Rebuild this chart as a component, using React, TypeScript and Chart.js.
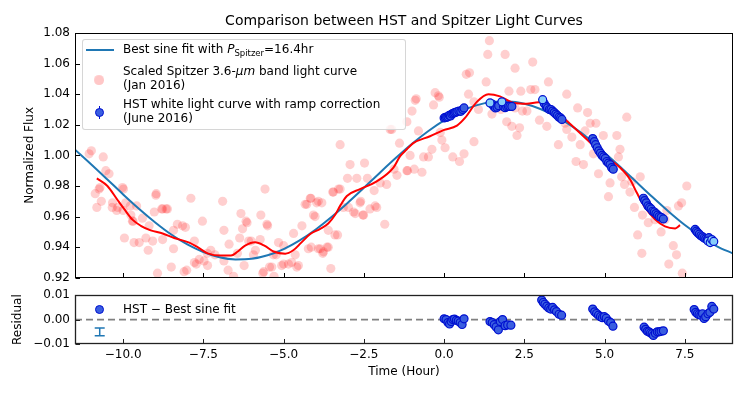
import React, { useEffect, useRef } from "react";
import { Chart, registerables } from "chart.js";
Chart.register(...registerables);

const FONT = '"DejaVu Sans", "Liberation Sans", sans-serif';

// ---- axes ----
const X_MIN = -11.5;
const X_MAX = 9;
const X_TICKS = [-10, -7.5, -5, -2.5, 0, 2.5, 5, 7.5];
const FLUX_MIN = 0.92;
const FLUX_MAX = 1.08;
const FLUX_TICKS = [0.92, 0.94, 0.96, 0.98, 1.0, 1.02, 1.04, 1.06, 1.08];
const RES_MIN = -0.01;
const RES_MAX = 0.01;
const RES_TICKS = [-0.01, 0, 0.01];

// ---- best sine fit ----
const SINE_TIME = [
  -11.5, -11, -10.5, -10, -9.5, -9, -8.5, -8, -7.5, -7, -6.5, -6, -5.5, -5, -4.5, -4, -3.5, -3, -2.5, -2, -1.5,
  -1, -0.5, 0, 0.5, 1, 1.5, 2, 2.5, 3, 3.5, 4, 4.5, 5, 5.5, 6, 6.5, 7, 7.5, 8, 8.5, 9,
];
const SINE_FLUX = [
  1.0037, 0.9942, 0.9844, 0.9745, 0.965, 0.9562, 0.9483, 0.9418, 0.9368, 0.9334, 0.932, 0.9324, 0.9347, 0.9388,
  0.9445, 0.9516, 0.9599, 0.9691, 0.9788, 0.9887, 0.9984, 1.0076, 1.0158, 1.0229, 1.0286, 1.0327, 1.0349, 1.0352,
  1.0337, 1.0303, 1.0253, 1.0188, 1.011, 1.0018, 0.9923, 0.9824, 0.9726, 0.9632, 0.9545, 0.947, 0.9406, 0.9359,
];

// ---- smoothed Spitzer curve (red) ----
const SMOOTH_TIME = [
  -10.82, -10.49, -10.18, -9.97, -9.71, -9.45, -9.14, -8.77, -8.41, -7.94, -7.68, -7.37, -6.96, -6.64, -6.44, -6.2,
  -5.89, -5.6, -5.3, -4.95, -4.7, -4.45, -4.17, -3.86, -3.61, -3.4, -3.24, -3.03, -2.62, -2.1, -1.58, -1.37, -1.16,
  -0.96, -0.44, -0.02, 0.4, 0.65, 1.02, 1.38, 1.74, 2.16, 2.58, 2.94, 3.3, 3.77, 4.39, 5.02, 5.48, 5.79, 6.0, 6.26,
  6.57, 6.88, 7.2, 7.35,
];
const SMOOTH_FLUX = [
  0.985, 0.98, 0.971, 0.965, 0.958, 0.954, 0.951, 0.949, 0.946, 0.943, 0.94, 0.936, 0.9345, 0.9345, 0.937, 0.941,
  0.9432, 0.941, 0.937, 0.9358, 0.938, 0.943, 0.9486, 0.952, 0.9555, 0.961, 0.967, 0.9735, 0.978, 0.983, 0.992,
  0.9995, 1.004, 1.008, 1.0125, 1.0165, 1.0195, 1.0245, 1.035, 1.04, 1.0386, 1.0343, 1.0338, 1.0347, 1.031, 1.0234,
  1.0115, 0.9995, 0.992, 0.9844, 0.9757, 0.966, 0.9583, 0.9536, 0.9523, 0.9544,
];

// ---- scaled Spitzer points (pink) ----
const SPITZER_TIME = [
  -11.06, -10.99, -10.74, -10.62, -10.54, -10.44, -10.75, -10.87, -10.72, -10.82, -10.68, -10.34, -10.2, -10.17,
  -10.33, -10.02, -9.99, -10.0, -9.92, -9.78, -9.76, -9.71, -9.69, -9.58, -9.4, -9.19, -9.03, -8.98, -8.97, -8.8,
  -8.77, -8.66, -8.62, -8.31, -8.15, -8.06, -8.43, -7.89, -7.53, -6.9, -6.86, -6.33, -6.28, -9.96, -9.66, -9.5,
  -9.29, -9.08, -8.77, -8.43, -7.78, -9.22, -7.27, -7.63, -7.48, -7.37, -6.7, -6.44, -6.73, -8.5, -8.93, -8.1, -8.02,
  -7.78, -6.23, -7.72, -7.14, -7.38, -6.86, -6.56, -6.37, -6.14, -6.09, -6.01, -5.88, -5.71, -5.73, -5.62, -5.58,
  -5.52, -5.44, -5.3, -5.23, -5.16, -5.0, -4.85, -4.75, -4.69, -4.59, -4.43, -4.33, -4.23, -4.17, -4.07, -3.97,
  -3.92, -3.81, -3.76, -3.61, -3.53, -3.45, -3.4, -3.32, -3.24, -2.98, -2.82, -2.62, -2.51, -2.31, -2.15, -5.94,
  -5.65, -5.37, -5.06, -4.54, -4.64, -5.32, -5.0, -3.86, -3.65, -3.78, -4.14, -3.61, -4.02, -4.28, -3.92, -4.15,
  -3.29, -3.47, -3.24, -2.93, -2.48, -3.01, -2.72, -2.39, -2.6, -3.14, -2.77, -2.53, -2.1, -2.18, -1.99, -1.79,
  -1.56, -1.47, -1.16, -1.39, -1.63, -1.85, -5.5, -6.17,
  1.41, 1.36, 1.9, 2.21, 2.76, 0.79, 0.69, 1.31, 3.25, 0.76, -0.28, -0.15, -0.87, -0.33, -1.0, 2.02, 2.39, 2.7,
  2.83, 3.82, 0.93, 1.07, 1.49, 1.77, 2.21, 2.44, 2.58, 2.97, 1.95, 2.11, 2.35, 2.27, 3.2, 3.77, -1.16, -0.8, -0.12,
  -0.07, 0.03, -0.38, 0.93, -0.64, -0.49, 0.27, 0.62, 0.48, -1.06, -1.14, -0.93, -0.69, 3.56, 3.98, 3.82, -1.68,
  -0.9, -0.18,
  4.16, 4.47, 4.55, 4.73, 5.69, 4.39, 4.24, 4.96, 5.38, 5.48, 4.11, 4.34, 4.65, 5.43, 4.81, 5.53, 6.11, 5.85, 5.62,
  5.17, 5.79, 5.12, 5.93, 7.56, 7.4, 7.3, 6.18, 6.57, 6.88, 6.36, 6.76, 6.03, 7.14, 6.16, 7.24, 7.0, 7.42, 6.94,
];
const SPITZER_FLUX = [
  1.001, 1.003, 1.049, 0.999, 0.99, 0.988, 0.978, 0.975, 0.979, 0.966, 0.97, 0.966, 0.964, 0.966, 0.969, 0.979,
  0.978, 0.964, 0.969, 0.967, 0.961, 0.957, 0.957, 0.967, 0.959, 0.954, 0.963, 0.974, 0.975, 0.965, 0.965, 0.965,
  0.965, 0.955, 0.954, 0.953, 0.951, 0.972, 0.957, 0.97, 0.951, 0.962, 0.952, 0.946, 0.943, 0.943, 0.946, 0.944,
  0.945, 0.939, 0.944, 0.938, 0.938, 0.932, 0.931, 0.928, 0.942, 0.936, 0.925, 0.927, 0.923, 0.924, 0.925, 0.93,
  0.928, 0.929, 0.935, 0.936, 0.931, 0.921, 0.946, 0.956, 0.944, 0.944, 0.938, 0.961, 0.945, 0.924, 0.978, 0.955,
  0.927, 0.921, 0.935, 0.943, 0.929, 0.929, 0.93, 0.949, 0.927, 0.954, 0.968, 0.939, 0.972, 0.961, 0.969, 0.939,
  0.969, 0.937, 0.94, 0.926, 0.976, 0.948, 0.948, 0.978, 0.966, 0.963, 0.969, 0.961, 0.965, 0.967, 0.935, 0.923,
  0.927, 0.928, 0.928, 0.935, 0.935, 0.941, 0.939, 0.94, 0.936, 0.94, 0.951, 0.96, 0.968, 0.97, 0.972, 0.978, 0.976,
  1.007, 0.994, 0.995, 0.985, 0.985, 0.985, 0.97, 0.966, 0.962, 0.961, 0.966, 0.977, 0.982, 0.981, 0.991, 0.987,
  0.99, 1.008, 1.017, 0.955, 0.954, 0.957,
  1.075, 1.066, 1.066, 1.057, 1.061, 1.054, 1.053, 1.048, 1.048, 1.04, 1.041, 1.038, 1.037, 1.033, 1.029, 1.042,
  1.042, 1.043, 1.043, 1.04, 1.035, 1.03, 1.027, 1.03, 1.031, 1.029, 1.029, 1.023, 1.022, 1.019, 1.018, 1.013,
  1.019, 1.021, 1.022, 1.016, 1.015, 1.01, 1.005, 1.004, 1.009, 0.999, 0.999, 0.999, 1.001, 0.996, 1.0, 0.99, 0.991,
  0.989, 1.007, 1.012, 1.017, 1.017, 1.036, 1.039,
  1.031, 1.028, 1.021, 1.021, 1.025, 1.016, 1.007, 1.013, 1.013, 1.004, 0.996, 0.994, 1.001, 0.999, 0.988, 0.986,
  0.986, 0.983, 0.981, 0.982, 0.976, 0.973, 0.966, 0.98, 0.969, 0.967, 0.961, 0.958, 0.958, 0.956, 0.95, 0.948,
  0.941, 0.936, 0.935, 0.929, 0.923, 0.964,
];

// ---- HST white light curve ----
const HST_TIME = [
  0.0, 0.04, 0.08, 0.12, 0.16, 0.2, 0.24, 0.28, 0.32, 0.36, 0.4, 0.46, 0.52, 0.58, 0.62,
  1.5, 1.55, 1.6, 1.65, 1.7, 1.85, 1.9, 1.95, 2.0, 2.05, 2.11,
  3.12, 3.18, 3.22, 3.28, 3.33, 3.38, 3.43, 3.48, 3.53, 3.58, 3.63, 3.67,
  4.63, 4.68, 4.72, 4.77, 4.82, 4.87, 4.92, 4.97, 5.02, 5.07, 5.12, 5.17, 5.22, 5.27,
  6.21, 6.25, 6.3, 6.35, 6.4, 6.45, 6.5, 6.55, 6.6, 6.65, 6.7, 6.76, 6.83,
  7.82, 7.86, 7.9, 7.95, 8.0, 8.05, 8.1, 8.15, 8.2, 8.25,
];
const HST_FLUX = [
  1.0245, 1.0248, 1.025, 1.0252, 1.0262, 1.0258, 1.027, 1.0275, 1.0278, 1.0282, 1.0285, 1.029, 1.0288, 1.03, 1.031,
  1.0335, 1.032, 1.031, 1.0315, 1.0325, 1.032, 1.0312, 1.0318, 1.0322, 1.032, 1.032,
  1.034, 1.032, 1.031, 1.03, 1.03, 1.029, 1.028, 1.027, 1.026, 1.025, 1.0245, 1.0235,
  1.011, 1.009, 1.007, 1.005, 1.003, 1.0015, 1.0, 0.999, 0.998, 0.996, 0.995, 0.994, 0.992, 0.991,
  0.972, 0.9705, 0.969, 0.967, 0.966, 0.965, 0.9635, 0.963, 0.962, 0.961, 0.96, 0.9595, 0.9585,
  0.9516, 0.9505, 0.9495, 0.9485, 0.9475, 0.9468, 0.946, 0.9455, 0.945, 0.9462,
];
const HST_LIGHT_TIME = [1.43, 1.8, 3.07, 8.22, 8.29, 8.34, 8.4];
const HST_LIGHT_FLUX = [1.0343, 1.035, 1.0364, 0.944, 0.943, 0.945, 0.9438];

// ---- residuals (HST - best sine fit) ----
const RES_TIME = [
  0.0, 0.06, 0.12, 0.17, 0.22, 0.27, 0.32, 0.38, 0.44, 0.5, 0.56, 0.62,
  1.43, 1.5, 1.56, 1.62, 1.69, 1.75, 1.82, 1.9, 1.98, 2.08,
  3.04, 3.09, 3.14, 3.2, 3.26, 3.32, 3.38, 3.44, 3.5, 3.58, 3.66,
  4.63, 4.69, 4.75, 4.81, 4.87, 4.93, 4.99, 5.05, 5.12, 5.19, 5.26,
  6.23, 6.28, 6.33, 6.38, 6.43, 6.48, 6.52, 6.58, 6.64, 6.7, 6.76, 6.83,
  7.79, 7.84, 7.89, 7.94, 8.0, 8.05, 8.1, 8.15, 8.22, 8.28, 8.34, 8.4,
];
const RES_VALUE = [
  0.0003, 0.0, -0.0012, -0.0018, -0.0008, 0.0, 0.0002, -0.0003, -0.0006, -0.0012, -0.002, 0.0003,
  -0.0008, -0.0012, -0.0021, -0.003, -0.0042, -0.0008, 0.0, -0.0025, -0.0022, -0.0023,
  0.008, 0.007, 0.0063, 0.0055, 0.0048, 0.0043, 0.005, 0.004, 0.0033, 0.0022, 0.0018,
  0.0043, 0.0032, 0.0025, 0.0018, 0.0012, 0.0008, 0.0012, 0.0006, -0.0006, -0.0012, -0.0027,
  -0.0031, -0.004, -0.0048, -0.005, -0.0055, -0.0058, -0.0065, -0.0056, -0.005, -0.005, -0.0048, -0.0046,
  0.0041, 0.003, 0.0024, 0.002, 0.0018, 0.0024, 0.0005, 0.0012, 0.0024, 0.003, 0.0054, 0.0043,
];
const ERR_SAMPLE_X = -10.73;
const ERR_SAMPLE_Y = -0.005;
const ERR_SAMPLE_SIZE = 0.0016;

// ---- styles ----
const C_SINE = "#1f77b4";
const C_RED = "#ff0000";
const C_PINK = "rgba(255,0,0,0.19)";
const C_HST = "#3a5ee0";
const C_HST_EDGE = "#0010d0";
const C_HST_LIGHT = "#87cefa";

const pts = (xs: number[], ys: number[]) => xs.map((x, i) => ({ x, y: ys[i] }));
const fmt = (v: number, d: number) => {
  const s = Math.abs(v).toFixed(d);
  return v < -1e-9 ? "\u2212" + s : s;
};

function makeFrame(xTicks: number[], yTicks: number[], lw: number, color: string, drawErr: boolean) {
  return {
    id: "frame",
    afterDatasetsDraw(chart: any) {
      const { ctx, chartArea: a, scales } = chart;
      const xs = scales.x;
      const ys = scales.y;
      ctx.save();
      ctx.strokeStyle = color;
      ctx.lineWidth = lw;
      const L = Math.round(a.left) + 0.5;
      const R = Math.round(a.right) - 0.5;
      const T = Math.round(a.top) + 0.5;
      const B = Math.round(a.bottom) - 0.5;
      ctx.strokeRect(L, T, R - L, B - T);
      ctx.lineWidth = 1;
      ctx.beginPath();
      for (const v of xTicks) {
        const px = Math.round(xs.getPixelForValue(v)) + 0.5;
        ctx.moveTo(px, B);
        ctx.lineTo(px, B - 4.5);
      }
      for (const v of yTicks) {
        const py = Math.round(ys.getPixelForValue(v)) + 0.5;
        ctx.moveTo(L, py);
        ctx.lineTo(L + 4.5, py);
      }
      ctx.stroke();
      if (drawErr) {
        const ex = xs.getPixelForValue(ERR_SAMPLE_X);
        const y1 = ys.getPixelForValue(ERR_SAMPLE_Y + ERR_SAMPLE_SIZE);
        const y2 = ys.getPixelForValue(ERR_SAMPLE_Y - ERR_SAMPLE_SIZE);
        ctx.strokeStyle = C_SINE;
        ctx.lineWidth = 1.5;
        ctx.beginPath();
        ctx.moveTo(ex, y1);
        ctx.lineTo(ex, y2);
        ctx.moveTo(ex - 5, y1);
        ctx.lineTo(ex + 5, y1);
        ctx.moveTo(ex - 5, y2);
        ctx.lineTo(ex + 5, y2);
        ctx.stroke();
      }
      ctx.restore();
    },
  };
}

function baseOptions(yMin: number, yMax: number, yTicks: number[], yDigits: number, yTitle: string, yTitlePad: number, showX: boolean, padding: any) {
  return {
    animation: false,
    responsive: false,
    events: [],
    layout: { padding },
    plugins: { legend: { display: false }, tooltip: { enabled: false }, title: { display: false } },
    scales: {
      x: {
        type: "linear",
        min: X_MIN,
        max: X_MAX,
        display: showX,
        grid: { display: false, drawTicks: false },
        border: { display: false },
        afterBuildTicks: (s: any) => {
          s.ticks = X_TICKS.map((v) => ({ value: v }));
        },
        afterFit: (s: any) => {
          if (showX) s.height = 49;
        },
        ticks: {
          color: "#000",
          padding: 4,
          maxRotation: 0,
          autoSkip: false,
          font: { family: FONT, size: 12 },
          callback: (v: any) => fmt(Number(v), 1),
        },
        title: {
          display: showX,
          text: "Time (Hour)",
          color: "#000",
          font: { family: FONT, size: 12 },
          padding: { top: 0, bottom: 14 },
        },
      },
      y: {
        type: "linear",
        min: yMin,
        max: yMax,
        grid: { display: false, drawTicks: false },
        border: { display: false },
        afterBuildTicks: (s: any) => {
          s.ticks = yTicks.map((v) => ({ value: v }));
        },
        afterFit: (s: any) => {
          s.width = 75;
        },
        ticks: {
          color: "#000",
          padding: 5,
          autoSkip: false,
          font: { family: FONT, size: 12 },
          callback: (v: any) => fmt(Number(v), yDigits),
        },
        title: {
          display: true,
          text: yTitle,
          color: "#000",
          font: { family: FONT, size: 12 },
          padding: { top: yTitlePad, bottom: 0 },
        },
      },
    },
  };
}

export default function App() {
  const topRef = useRef<HTMLCanvasElement | null>(null);
  const botRef = useRef<HTMLCanvasElement | null>(null);

  useEffect(() => {
    document.body.style.margin = "0";
    const top = new Chart(topRef.current as HTMLCanvasElement, {
      type: "scatter",
      data: {
        datasets: [
          {
            data: pts(SPITZER_TIME, SPITZER_FLUX),
            backgroundColor: C_PINK,
            borderWidth: 0,
            pointRadius: 4.6,
            order: 5,
          },
          {
            data: pts(SINE_TIME, SINE_FLUX),
            showLine: true,
            borderColor: C_SINE,
            borderWidth: 2,
            pointRadius: 0,
            cubicInterpolationMode: "monotone",
            order: 4,
          },
          {
            data: pts(SMOOTH_TIME, SMOOTH_FLUX),
            showLine: true,
            borderColor: C_RED,
            borderWidth: 2,
            pointRadius: 0,
            cubicInterpolationMode: "monotone",
            order: 3,
          },
          {
            data: pts(HST_TIME, HST_FLUX),
            backgroundColor: C_HST,
            borderColor: C_HST_EDGE,
            borderWidth: 1.2,
            pointRadius: 4,
            order: 2,
          },
          {
            data: pts(HST_LIGHT_TIME, HST_LIGHT_FLUX),
            backgroundColor: C_HST_LIGHT,
            borderColor: C_HST_EDGE,
            borderWidth: 1.2,
            pointRadius: 4,
            order: 1,
          },
        ],
      },
      options: baseOptions(FLUX_MIN, FLUX_MAX, FLUX_TICKS, 2, "Normalized Flux", 23, false, {
        left: 0,
        right: 14,
        top: 33,
        bottom: 11,
      }) as any,
      plugins: [makeFrame(X_TICKS, FLUX_TICKS, 1, "#000", false)],
    } as any);

    const bot = new Chart(botRef.current as HTMLCanvasElement, {
      type: "scatter",
      data: {
        datasets: [
          {
            data: [
              { x: X_MIN, y: 0 },
              { x: X_MAX, y: 0 },
            ],
            showLine: true,
            borderColor: "#808080",
            borderWidth: 1.8,
            borderDash: [7, 4],
            pointRadius: 0,
            order: 2,
          },
          {
            data: pts(RES_TIME, RES_VALUE),
            backgroundColor: C_HST,
            borderColor: C_HST_EDGE,
            borderWidth: 1.2,
            pointRadius: 4,
            order: 1,
          },
        ],
      },
      options: baseOptions(RES_MIN, RES_MAX, RES_TICKS, 2, "Residual", 11, true, {
        left: 0,
        right: 14,
        top: 9,
        bottom: 0,
      }) as any,
      plugins: [makeFrame(X_TICKS, RES_TICKS, 1.3, "#222", true)],
    } as any);

    return () => {
      top.destroy();
      bot.destroy();
    };
  }, []);

  const txt: React.CSSProperties = {
    position: "absolute",
    fontFamily: FONT,
    fontSize: "12px",
    lineHeight: "14px",
    color: "#000",
    whiteSpace: "nowrap",
  };
  const marker = (cx: number, cy: number, fill: string): React.CSSProperties => ({
    position: "absolute",
    left: cx - 4.5,
    top: cy - 4.5,
    width: 9,
    height: 9,
    boxSizing: "border-box",
    borderRadius: "50%",
    background: fill,
    border: `1.2px solid ${C_HST_EDGE}`,
  });

  return (
    <div style={{ position: "fixed", left: 0, top: 0, width: 747, height: 393, background: "#fff", overflow: "hidden" }}>
      <canvas ref={topRef} width={747} height={290} style={{ position: "absolute", left: 0, top: 0 }} />
      <canvas ref={botRef} width={747} height={110} style={{ position: "absolute", left: 0, top: 283 }} />

      <div style={{ ...txt, left: 75, width: 658, top: 12, fontSize: "14px", lineHeight: "16px", textAlign: "center" }}>
        Comparison between HST and Spitzer Light Curves
      </div>

      {/* main legend */}
      <div
        style={{
          position: "absolute",
          left: 82,
          top: 39,
          width: 324,
          height: 91,
          boxSizing: "border-box",
          border: "1px solid rgba(204,204,204,0.8)",
          borderRadius: 3,
          background: "rgba(255,255,255,0.8)",
        }}
      />
      <div style={{ position: "absolute", left: 86, top: 49, width: 28, height: 2, background: C_SINE }} />
      <div style={{ ...txt, left: 123, top: 42 }}>
        Best sine fit with <i>P</i>
        <span style={{ fontSize: "8.5px", position: "relative", top: 3 }}>Spitzer</span>=16.4hr
      </div>
      <div
        style={{
          position: "absolute",
          left: 99 - 4.6,
          top: 80 - 4.6,
          width: 9.2,
          height: 9.2,
          borderRadius: "50%",
          background: C_PINK,
        }}
      />
      <div style={{ ...txt, left: 123, top: 64 }}>
        Scaled Spitzer 3.6-<i>μm</i> band light curve
      </div>
      <div style={{ ...txt, left: 123, top: 78 }}>(Jan 2016)</div>
      <div style={{ position: "absolute", left: 98.5, top: 106, width: 1.2, height: 13, background: C_HST_EDGE }} />
      <div style={marker(99, 112, C_HST)} />
      <div style={{ ...txt, left: 123, top: 97 }}>HST white light curve with ramp correction</div>
      <div style={{ ...txt, left: 123, top: 111 }}>(June 2016)</div>

      {/* residual legend */}
      <div style={marker(99, 309, C_HST)} />
      <div style={{ ...txt, left: 123, top: 302 }}>HST {"\u2212"} Best sine fit</div>
    </div>
  );
}
